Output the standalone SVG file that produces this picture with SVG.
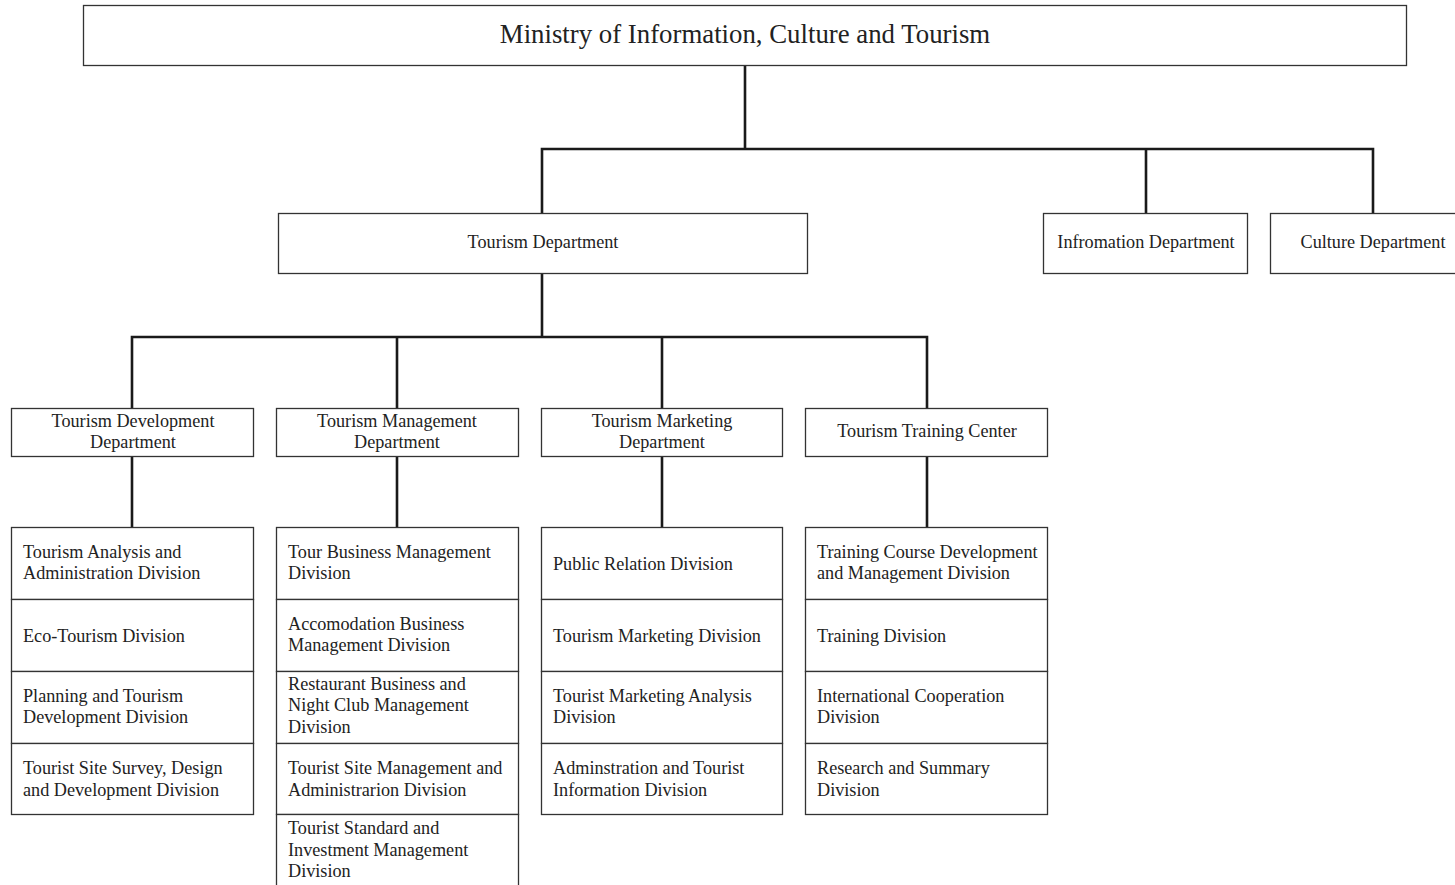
<svg xmlns="http://www.w3.org/2000/svg" width="1455" height="885" viewBox="0 0 1455 885">
<style>
.box{fill:#fff;stroke:#333;stroke-width:1.3}
.t{font-family:"Liberation Serif","Times New Roman",serif;font-size:18.2px;fill:#222}
.c{text-anchor:middle}
.title{font-size:26.8px}
.ln{fill:none;stroke:#1a1a1a;stroke-width:2.6;stroke-linecap:square}
</style>
<rect width="1455" height="885" fill="#fff"/>
<g id="connectors">
<path class="ln" d="M745 66V149M542 149H1373M542 149V213M1146 149V213M1373 149V213"/>
<path class="ln" d="M542 274V337M132 337H927M132 337V408M397 337V408M662 337V408M927 337V408"/>
<path class="ln" d="M132 457V527M397 457V527M662 457V527M927 457V527"/>
</g>
<g id="ministry"><rect class="box" x="83.5" y="5.5" width="1323" height="60"/><text class="t c title" x="745" y="43">Ministry of Information, Culture and Tourism</text></g>
<g id="tourism-dept"><rect class="box" x="278.5" y="213.5" width="529" height="60"/><text class="t c" x="543" y="248">Tourism Department</text></g>
<g id="info-dept"><rect class="box" x="1043.5" y="213.5" width="204" height="60"/><text class="t c" x="1146" y="248">Infromation Department</text></g>
<g id="culture-dept"><rect class="box" x="1270.5" y="213.5" width="190" height="60"/><text class="t c" x="1373" y="248">Culture Department</text></g>
<g id="dev-dept"><rect class="box" x="11.5" y="408.5" width="242" height="48"/><text class="t c" x="133" y="427">Tourism Development</text><text class="t c" x="133" y="448">Department</text></g>
<g id="mgmt-dept"><rect class="box" x="276.5" y="408.5" width="242" height="48"/><text class="t c" x="397" y="427">Tourism Management</text><text class="t c" x="397" y="448">Department</text></g>
<g id="mkt-dept"><rect class="box" x="541.5" y="408.5" width="241" height="48"/><text class="t c" x="662" y="427">Tourism Marketing</text><text class="t c" x="662" y="448">Department</text></g>
<g id="training-center"><rect class="box" x="805.5" y="408.5" width="242" height="48"/><text class="t c" x="927" y="437">Tourism Training Center</text></g>
<g id="dev-div1"><rect class="box" x="11.5" y="527.5" width="242" height="72"/><text class="t" x="23" y="558">Tourism Analysis and</text><text class="t" x="23" y="579">Administration Division</text></g>
<g id="dev-div2"><rect class="box" x="11.5" y="599.5" width="242" height="72"/><text class="t" x="23" y="642">Eco-Tourism Division</text></g>
<g id="dev-div3"><rect class="box" x="11.5" y="671.5" width="242" height="72"/><text class="t" x="23" y="702">Planning and Tourism</text><text class="t" x="23" y="723">Development Division</text></g>
<g id="dev-div4"><rect class="box" x="11.5" y="743.5" width="242" height="71"/><text class="t" x="23" y="774">Tourist Site Survey, Design</text><text class="t" x="23" y="796">and Development Division</text></g>
<g id="mgmt-div1"><rect class="box" x="276.5" y="527.5" width="242" height="72"/><text class="t" x="288" y="558">Tour Business Management</text><text class="t" x="288" y="579">Division</text></g>
<g id="mgmt-div2"><rect class="box" x="276.5" y="599.5" width="242" height="72"/><text class="t" x="288" y="630">Accomodation Business</text><text class="t" x="288" y="651">Management Division</text></g>
<g id="mgmt-div3"><rect class="box" x="276.5" y="671.5" width="242" height="72"/><text class="t" x="288" y="690">Restaurant Business and</text><text class="t" x="288" y="711">Night Club Management</text><text class="t" x="288" y="733">Division</text></g>
<g id="mgmt-div4"><rect class="box" x="276.5" y="743.5" width="242" height="71"/><text class="t" x="288" y="774">Tourist Site Management and</text><text class="t" x="288" y="796">Administrarion Division</text></g>
<g id="mgmt-div5"><rect class="box" x="276.5" y="814.5" width="242" height="80"/><text class="t" x="288" y="834">Tourist Standard and</text><text class="t" x="288" y="856">Investment Management</text><text class="t" x="288" y="877">Division</text></g>
<g id="mkt-div1"><rect class="box" x="541.5" y="527.5" width="241" height="72"/><text class="t" x="553" y="570">Public Relation Division</text></g>
<g id="mkt-div2"><rect class="box" x="541.5" y="599.5" width="241" height="72"/><text class="t" x="553" y="642">Tourism Marketing Division</text></g>
<g id="mkt-div3"><rect class="box" x="541.5" y="671.5" width="241" height="72"/><text class="t" x="553" y="702">Tourist Marketing Analysis</text><text class="t" x="553" y="723">Division</text></g>
<g id="mkt-div4"><rect class="box" x="541.5" y="743.5" width="241" height="71"/><text class="t" x="553" y="774">Adminstration and Tourist</text><text class="t" x="553" y="796">Information Division</text></g>
<g id="tr-div1"><rect class="box" x="805.5" y="527.5" width="242" height="72"/><text class="t" x="817" y="558">Training Course Development</text><text class="t" x="817" y="579">and Management Division</text></g>
<g id="tr-div2"><rect class="box" x="805.5" y="599.5" width="242" height="72"/><text class="t" x="817" y="642">Training Division</text></g>
<g id="tr-div3"><rect class="box" x="805.5" y="671.5" width="242" height="72"/><text class="t" x="817" y="702">International Cooperation</text><text class="t" x="817" y="723">Division</text></g>
<g id="tr-div4"><rect class="box" x="805.5" y="743.5" width="242" height="71"/><text class="t" x="817" y="774">Research and Summary</text><text class="t" x="817" y="796">Division</text></g>
</svg>
